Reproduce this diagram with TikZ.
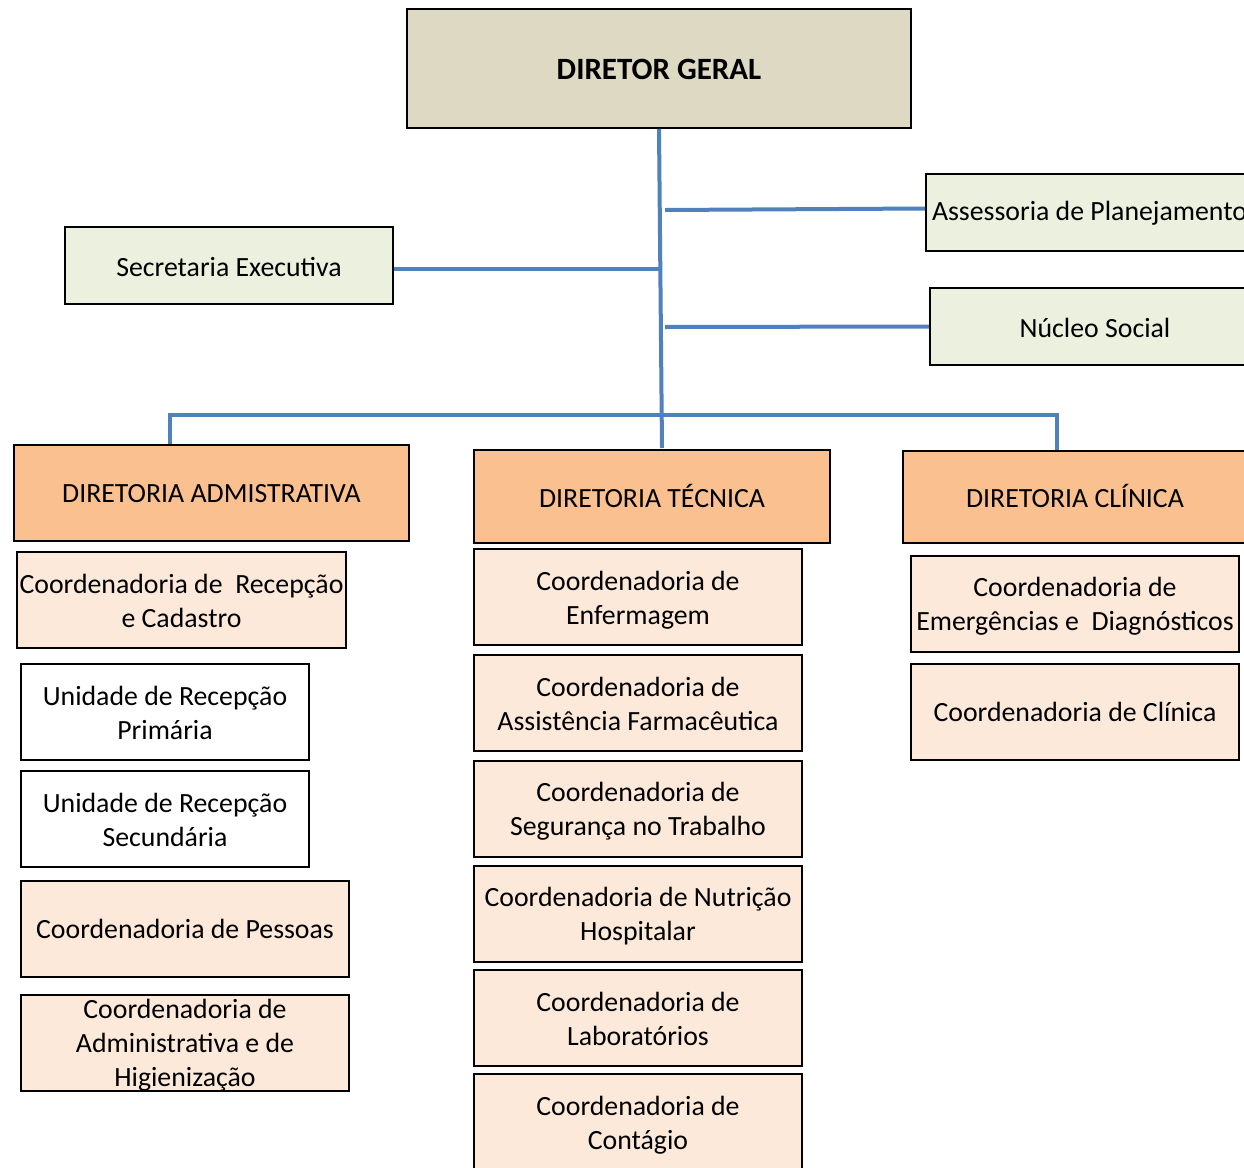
\documentclass[tikz,border=0pt]{standalone}
\usepackage{fontspec}
\setmainfont{Carlito}
\definecolor{dgfill}{HTML}{DDD9C3}
\definecolor{grn}{HTML}{EBF1DE}
\definecolor{org}{HTML}{FAC090}
\definecolor{lor}{HTML}{FDE9D9}
\definecolor{conncol}{HTML}{4F81BD}
\tikzset{
  box/.style={draw=black, line width=1.8pt, inner sep=0pt},
  lbl/.style={inner sep=0pt, align=center, font=\fontsize{27.8}{33.8}\selectfont},
  conn/.style={draw=conncol, line width=4pt},
}
\newcommand{\bx}[8]{% name, text style, left, top, right, bottom, fill, text
  \node[box, fill=#7, minimum width={#5-#3}, minimum height={#6-#4}] (#1) at ({(#3+#5)/2},{(#4+#6)/2}) {};
  \node[lbl, #2] (#1-t) at (#1.center) {#8};}
\begin{document}
\begin{tikzpicture}[x=1pt,y=-1pt]
\clip (0,0) rectangle (1244,1167);
\fill[white] (0,0) rectangle (1244,1167);
% top level
\bx{dg}{font=\fontsize{31}{36}\selectfont\bfseries, yshift=-1pt}{407}{9}{911}{128}{dgfill}{DIRETOR GERAL}
\bx{ass}{yshift=-1pt}{926}{174}{1253}{251}{grn}{Assessoria de Planejamento}
\bx{sec}{yshift=-1pt}{65}{227}{393}{304}{grn}{Secretaria Executiva}
\bx{nuc}{yshift=-1pt}{930}{288}{1260}{365}{grn}{Núcleo Social}
% diretorias
\bx{da}{yshift=-1pt}{14}{445}{409}{541}{org}{DIRETORIA ADMISTRATIVA}
\bx{dt}{yshift=1pt}{474}{450}{830}{543}{org}{DIRETORIA TÉCNICA}
\bx{dc}{yshift=1pt}{903}{451}{1247}{543}{org}{DIRETORIA CLÍNICA}
% left column
\bx{a1}{yshift=-1pt}{17}{552}{346}{648}{lor}{Coordenadoria de\ \ Recepção\\e Cadastro}
\bx{a2}{yshift=-1pt}{21}{664}{309}{760}{white}{Unidade de Recepção\\Primária}
\bx{a3}{yshift=-1pt}{21}{771}{309}{867}{white}{Unidade de Recepção\\Secundária}
\bx{a4}{}{21}{881}{349}{977}{lor}{Coordenadoria de Pessoas}
\bx{a5}{yshift=-2pt}{21}{995}{349}{1091}{lor}{Coordenadoria de\\Administrativa e de\\Higienização}
% middle column
\bx{t1}{yshift=-3pt}{474}{549}{802}{645}{lor}{Coordenadoria de\\Enfermagem}
\bx{t2}{yshift=-1pt}{474}{655}{802}{751}{lor}{Coordenadoria de\\Assistência Farmacêutica}
\bx{t3}{yshift=-2pt}{474}{761}{802}{857}{lor}{Coordenadoria de\\Segurança no Trabalho}
\bx{t4}{yshift=-2pt}{474}{866}{802}{962}{lor}{Coordenadoria de Nutrição\\Hospitalar}
\bx{t5}{yshift=-1pt}{474}{970}{802}{1066}{lor}{Coordenadoria de\\Laboratórios}
\bx{t6}{yshift=-3pt}{474}{1074}{802}{1170}{lor}{Coordenadoria de\\Contágio}
% right column
\bx{c1}{yshift=-2pt}{911}{556}{1239}{652}{lor}{Coordenadoria de\\Emergências e\ \ Diagnósticos}
\bx{c2}{}{911}{664}{1239}{760}{lor}{Coordenadoria de Clínica}
% connectors
\coordinate (trunk) at (662,448);
\coordinate (ja) at (665,210);
\coordinate (js) at (659,268.5);
\coordinate (jn) at (665,327);
\coordinate (ba) at (170,415);
\coordinate (bc) at (1057,415);
\draw[conn] (dg.south) -- (trunk);
\draw[conn] (ja) -- ([yshift=1.5pt]ja -| ass.west);
\draw[conn] (js -| sec.east) -- (js);
\draw[conn] (jn) -- ([yshift=0.5pt]jn -| nuc.west);
\draw[conn] (ba |- da.north) -- (ba) -- (bc) -- (bc |- dc.north);
\end{tikzpicture}
\end{document}
